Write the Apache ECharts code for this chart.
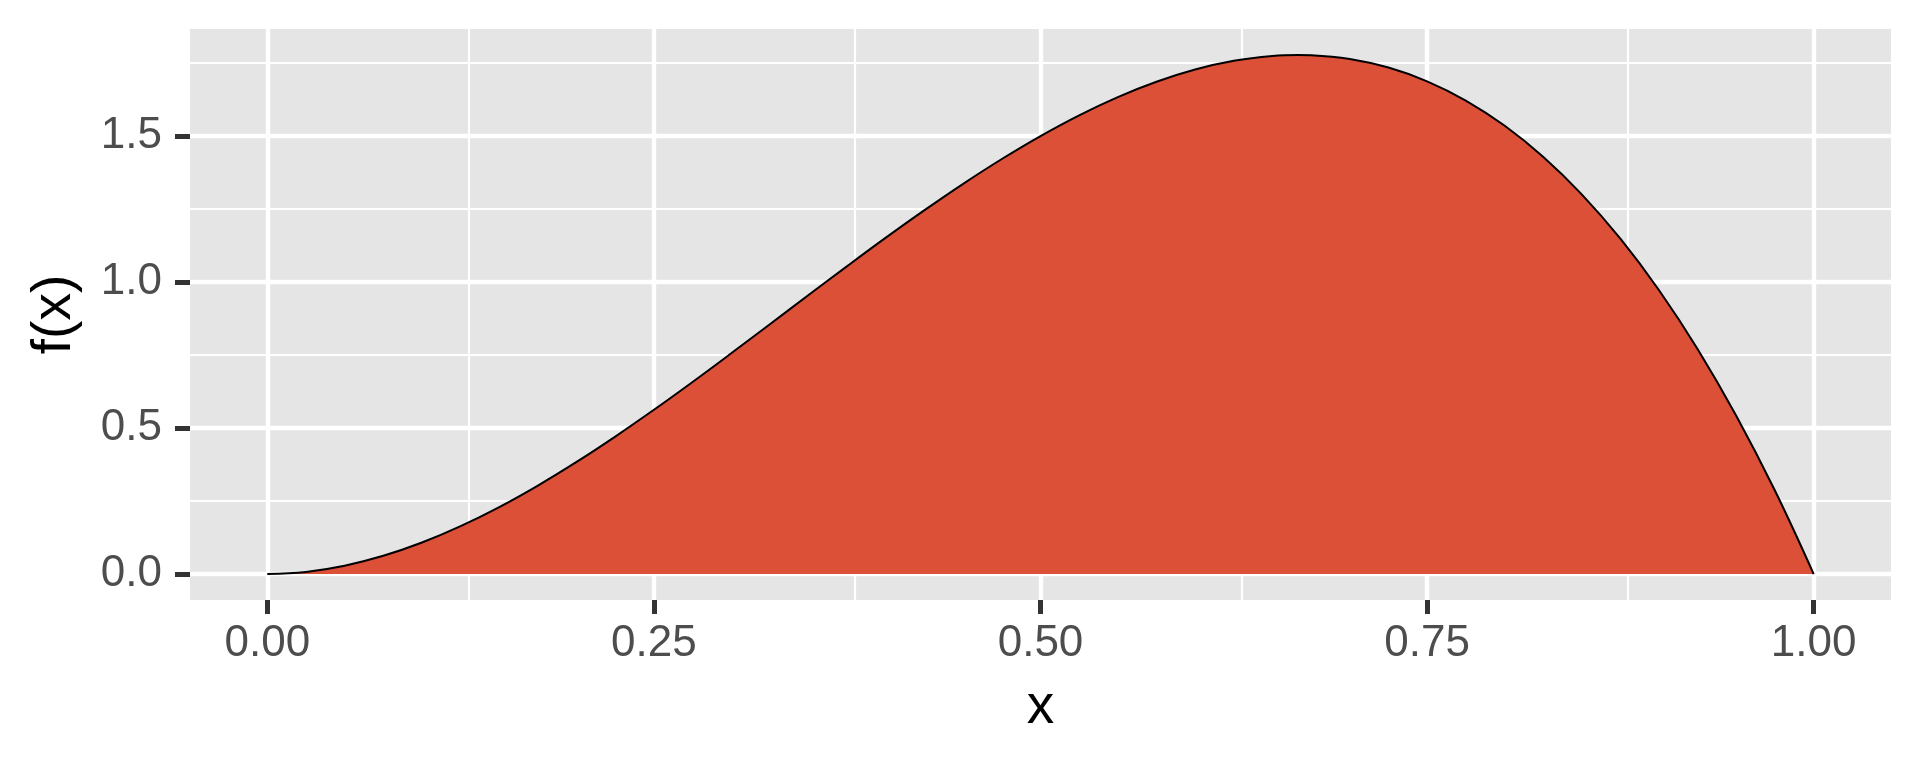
<!DOCTYPE html>
<html>
<head>
<meta charset="utf-8">
<script src="https://cdn.jsdelivr.net/npm/echarts@6/dist/echarts.min.js"></script>
<style>html,body{margin:0;padding:0;background:#fff;}#c{width:1920px;height:768px;}</style>
</head>
<body>
<div id="c"></div>
<script>
// Density curve values
const xs = [0, 0.025, 0.05, 0.075, 0.1, 0.125, 0.15, 0.175, 0.2, 0.225, 0.25, 0.275, 0.3, 0.325, 0.35, 0.375, 0.4, 0.425, 0.45, 0.475, 0.5, 0.525, 0.55, 0.575, 0.6, 0.625, 0.65, 0.6667, 0.675, 0.7, 0.725, 0.75, 0.775, 0.8, 0.825, 0.85, 0.875, 0.9, 0.925, 0.95, 0.975, 1.0];
const fx = [0, 0.0073, 0.0285, 0.0624, 0.108, 0.1641, 0.2295, 0.3032, 0.384, 0.4708, 0.5625, 0.6579, 0.756, 0.8556, 0.9555, 1.0547, 1.152, 1.2463, 1.3365, 1.4214, 1.5, 1.5711, 1.6335, 1.6862, 1.728, 1.7578, 1.7745, 1.7778, 1.7769, 1.764, 1.7346, 1.6875, 1.6217, 1.536, 1.4293, 1.3005, 1.1484, 0.972, 0.7701, 0.5415, 0.2852, 0];
const xTicks = [0, 0.25, 0.5, 0.75, 1.0];
const xMinor = [0.125, 0.375, 0.625, 0.875];
const yTicks = [0, 0.5, 1.0, 1.5];
const yMinor = [0.25, 0.75, 1.25, 1.75];

const data = xs.map((x, i) => [x, fx[i]]);
const majorStyle = {color: '#FFFFFF', width: 4.4, type: 'solid'};
const minorStyle = {color: '#FFFFFF', width: 2.2, type: 'solid'};
const gridLines = []
  .concat(xMinor.map(v => ({xAxis: v, lineStyle: minorStyle})))
  .concat(yMinor.map(v => ({yAxis: v, lineStyle: minorStyle})))
  .concat(xTicks.map(v => ({xAxis: v, lineStyle: majorStyle})))
  .concat(yTicks.map(v => ({yAxis: v, lineStyle: majorStyle})));

const chart = echarts.init(document.getElementById('c'), null, {renderer: 'canvas'});
const labelFont = {fontFamily: 'Liberation Sans, Arial, sans-serif', fontSize: 44, color: '#4D4D4D'};
const tickStyle = {color: '#333333', width: 5};
chart.setOption({
  animation: false,
  backgroundColor: '#FFFFFF',
  grid: {left: 190, right: 29, top: 29, bottom: 168, show: true, backgroundColor: '#E5E5E5', borderWidth: 0},
  xAxis: {
    type: 'value', min: -0.05, max: 1.05,
    name: 'x', nameLocation: 'middle', nameGap: 80,
    nameTextStyle: {fontFamily: 'Liberation Sans, Arial, sans-serif', fontSize: 55, color: '#000000'},
    axisLine: {show: false, onZero: false},
    splitLine: {show: false},
    axisTick: {show: true, length: 14, lineStyle: tickStyle, customValues: xTicks},
    axisLabel: Object.assign({margin: 22, customValues: xTicks, formatter: v => v.toFixed(2)}, labelFont)
  },
  yAxis: {
    type: 'value', min: -0.0889, max: 1.8667,
    name: 'f(x)', nameLocation: 'middle', nameGap: 108, nameRotate: 90,
    nameTextStyle: {fontFamily: 'Liberation Sans, Arial, sans-serif', fontSize: 55, color: '#000000'},
    axisLine: {show: false, onZero: false},
    splitLine: {show: false},
    axisTick: {show: true, length: 15, lineStyle: tickStyle, customValues: yTicks},
    axisLabel: Object.assign({margin: 28, customValues: yTicks, formatter: v => v.toFixed(1)}, labelFont)
  },
  series: [
    {
      type: 'line', z: 1, data: [], symbol: 'none', silent: true,
      markLine: {z: 1, silent: true, symbol: ['none', 'none'], label: {show: false}, animation: false, data: gridLines}
    },
    {
      type: 'line', z: 3, data: data, symbol: 'none', smooth: 0.4, silent: true,
      lineStyle: {color: '#000000', width: 2},
      areaStyle: {color: '#DB5037', opacity: 1, origin: 0}
    }
  ]
});
</script>
</body>
</html>
